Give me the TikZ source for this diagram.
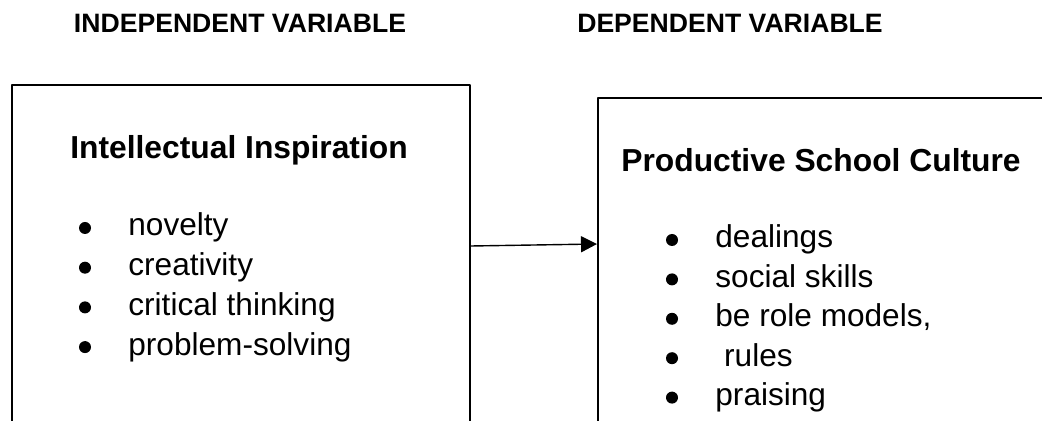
\documentclass[tikz,border=0pt]{standalone}
\usepackage{fontspec}
\setmainfont{Liberation Sans}
\usetikzlibrary{arrows.meta}

\tikzset{
  frame/.style={draw, line width=1pt, rectangle, anchor=north west, inner sep=0pt},
  heading/.style={font=\bfseries\fontsize{13.3}{16}\selectfont, anchor=base, inner sep=0pt},
  boxtitle/.style={font=\bfseries\fontsize{15.9}{19}\selectfont, anchor=base, inner sep=0pt},
  entry/.style={font=\fontsize{15.8}{19}\selectfont, anchor=base west, inner sep=0pt},
  dot/.style={circle, fill=black, inner sep=0pt, minimum size=6pt},
  flow/.style={line width=0.7pt, -{Triangle[length=8pt, width=8pt]}}
}

\begin{document}
\begin{tikzpicture}[x=0.5pt, y=-0.5pt, line cap=round, line join=round]
        \clip (0, 0) rectangle (1042, 421);
        % draw column headings
        \node[heading] (indep) at (240, 33) {INDEPENDENT VARIABLE};
        \node[heading] (dep) at (730, 33) {DEPENDENT VARIABLE};
        % draw the two boxes (both run past the page edge)
        \node[frame, minimum width=229pt, minimum height=200pt] (ibox) at (11, 84) {};
        \node[frame, minimum width=260pt, minimum height=195pt] (pbox) at (597, 97) {};
        % draw box titles
        \node[boxtitle] (ititle) at (239, 159) {Intellectual Inspiration};
        \node[boxtitle] (ptitle) at (821, 172) {Productive School Culture};
        % draw left bullet list
        \foreach \txt [count=\i] in {novelty, creativity, critical thinking, problem-solving} {
            \node[dot] (idot\i) at (85, 228 + 39.7*\i - 39.7) {};
            \node[entry] (item\i) at (128, 236 + 39.7*\i - 39.7) {\txt};
        }
        % draw right bullet list
        \foreach \txt [count=\i] in {dealings, social skills, {be role models,}, {\ rules}, praising} {
            \node[dot] (pdot\i) at (672, 240 + 39.4*\i - 39.4) {};
            \node[entry] (pitem\i) at (715, 248 + 39.4*\i - 39.4) {\txt};
        }
        % draw the relation arrow
        \draw[flow] ([yshift=19.5pt]ibox.east) -- ([yshift=24.5pt]pbox.west);
\end{tikzpicture}
\end{document}
